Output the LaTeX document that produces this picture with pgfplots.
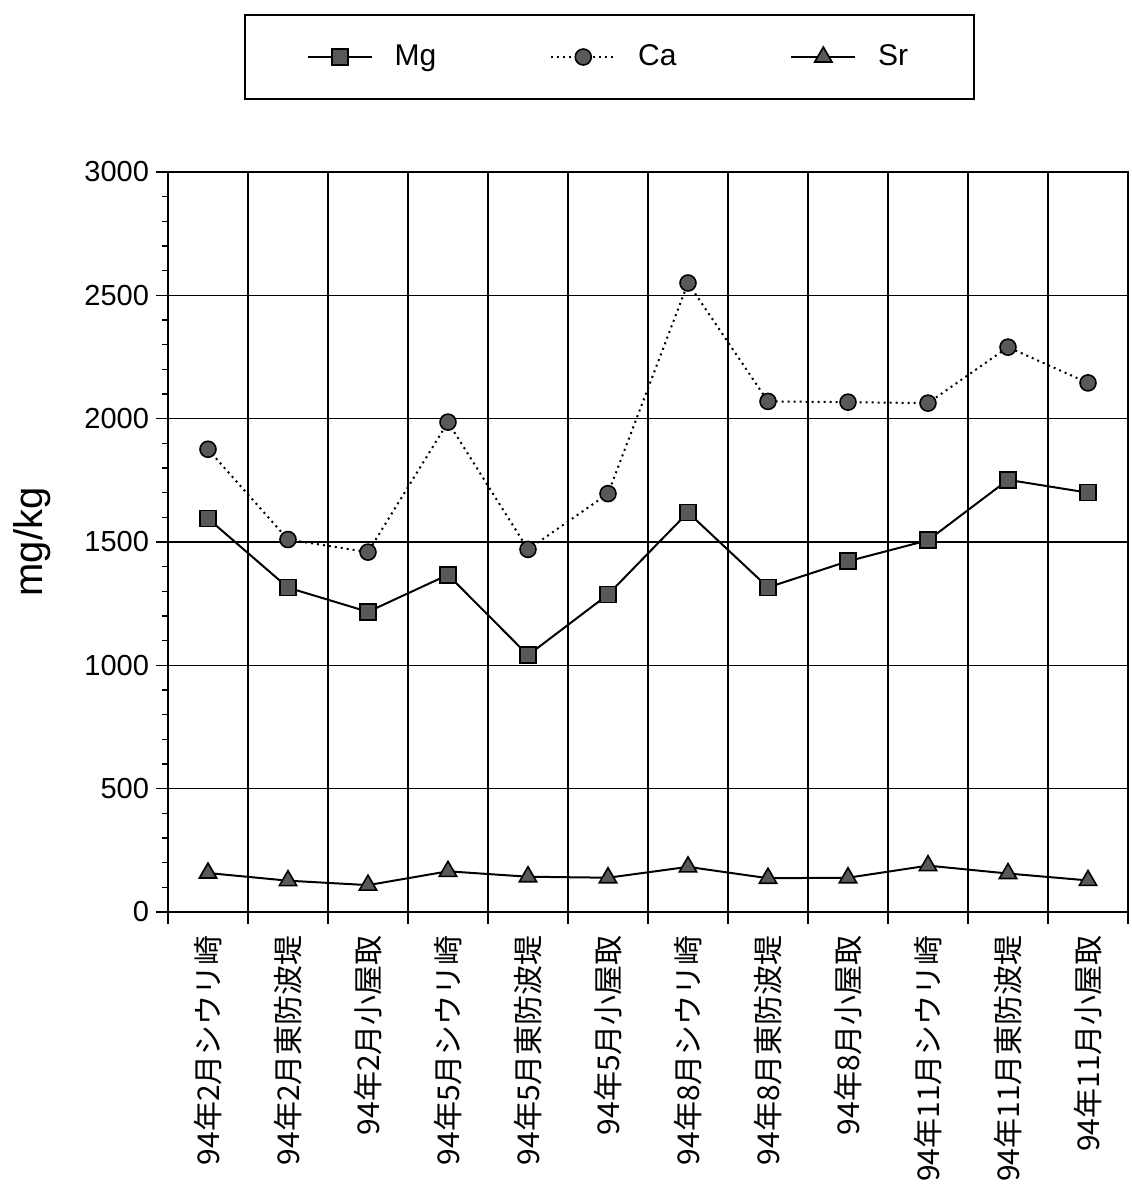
\documentclass[border=0pt]{standalone}
\usepackage{pgfplots}
\usepackage{pgfplotstable}
\pgfplotsset{compat=1.18}
\usepackage{fontspec}
\setmainfont{Liberation Sans}
\newfontfamily\jp{Noto Sans CJK JP}

\pgfplotstableread{
x  Mg    Ca    Sr
1  1595  1876  158
2  1315  1510  127
3  1217  1459  109
4  1367  1986  165
5  1041  1470  143
6  1287  1696  139
7  1620  2550  183
8  1316  2070  137
9  1422  2067  139
10 1507  2063  188
11 1752  2290  156
12 1700  2145  128
}\datatable

\begin{document}
\begin{tikzpicture}
\begin{axis}[
    scale only axis,
    width=480pt, height=370pt,
    xmin=0.5, xmax=12.5,
    ymin=0, ymax=3000,
    tick pos=left,
    xtick={0.5,1.5,...,12.5},
    xticklabels={},
    extra x ticks={1,2,...,12},
    extra x tick labels={94年2月シウリ崎,94年2月東防波堤,94年2月小屋取,94年5月シウリ崎,94年5月東防波堤,94年5月小屋取,94年8月シウリ崎,94年8月東防波堤,94年8月小屋取,94年11月シウリ崎,94年11月東防波堤,94年11月小屋取},
    extra x tick style={grid=none, major tick length=0pt},
    x tick label style={font=\jp\fontsize{15}{15}\selectfont, yshift=-8pt, rotate=90, anchor=east},
    ytick={0,500,...,3000},
    minor y tick num=4,
    y tick label style={font=\fontsize{14.5}{14.5}\selectfont},
    /pgf/number format/assume math mode=true,
    /pgf/number format/1000 sep={},
    xmajorgrids=true, ymajorgrids=true,
    grid style={black, line width=0.6pt},
    tick align=outside,
    major tick length=6pt, minor tick length=3pt,
    tick style={black, line width=0.6pt},
    axis line style={black, line width=0.9pt},
    ylabel={mg/kg},
    ylabel style={font=\fontsize{20}{20}\selectfont},
    ylabel shift=10pt,
    legend columns=3,
    legend style={at={(0.46,1.1554)}, anchor=center, draw=black, line width=0.8pt,
        font=\fontsize{15}{15}\selectfont, inner xsep=31pt, inner ysep=13pt,
        /tikz/every even column/.append style={column sep=55pt},
        /tikz/every odd column/.append style={column sep=9pt}},
    legend image code/.code={\draw[mark repeat=2,mark phase=2,#1] plot coordinates {(0cm,0cm) (0.56cm,0cm) (1.12cm,0cm)};},
]
\coordinate (O) at (rel axis cs:0,0);
\addplot[black, line width=1pt, mark=square*, mark size=4pt,
    mark options={solid, fill=black!65, draw=black, line width=0.8pt}]
    table[x=x, y=Mg] {\datatable};
\addlegendentry{Mg}
\addplot[black, line width=1pt, dotted, mark=*, mark size=4pt,
    mark options={solid, fill=black!65, draw=black, line width=0.8pt}]
    table[x=x, y=Ca] {\datatable};
\addlegendentry{Ca}
\addplot[black, line width=1pt, mark=triangle*, mark size=5pt,
    mark options={solid, fill=black!65, draw=black, line width=0.8pt}]
    table[x=x, y=Sr] {\datatable};
\addlegendentry{Sr}
\end{axis}
\pgfresetboundingbox
\useasboundingbox ([shift={(-84pt,-144pt)}]O) rectangle ([shift={(481.5pt,456pt)}]O);
\end{tikzpicture}
\end{document}
